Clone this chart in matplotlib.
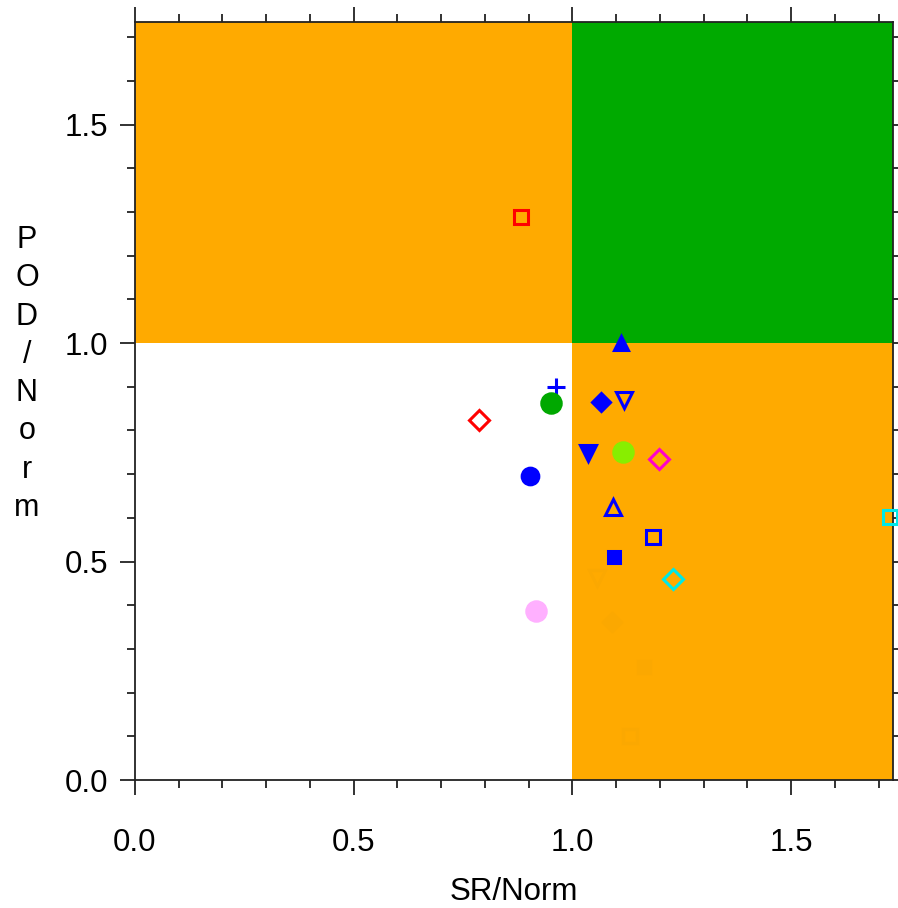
import matplotlib
matplotlib.use("Agg")
import matplotlib.pyplot as plt
from matplotlib.patches import Rectangle
from matplotlib.ticker import MultipleLocator

plt.rcParams['font.family'] = ['Liberation Sans', 'DejaVu Sans']

# Performance-diagram points: normalised success ratio vs. normalised POD
sr_norm = [0.882, 1.111, 0.962, 0.951, 0.786, 1.065, 1.118, 1.035, 1.115,
           1.198, 0.903, 1.093, 1.184, 1.095, 1.230, 0.917, 1.726,
           1.056, 1.090, 1.163, 1.131]
pod_norm = [1.288, 1.000, 0.899, 0.863, 0.824, 0.865, 0.870, 0.748, 0.751,
            0.735, 0.696, 0.625, 0.556, 0.510, 0.460, 0.387, 0.602,
            0.462, 0.362, 0.259, 0.100]
markers = ['s', '^', '+', 'o', 'D', 'D', 'v', 'v', 'o',
           'D', 'o', '^', 's', 's', 'D', 'o', 's',
           'v', 'D', 's', 's']
colors = ['#ff0000', '#0000ff', '#0000ff', '#00a800', '#ff0000', '#0000ff',
          '#0000ff', '#0000ff', '#88ee00', '#ff00cc', '#0000ff', '#0000ff',
          '#0000ff', '#0000ff', '#00e8e8', '#ffb0ff', '#00e8e8',
          '#fba801', '#fba801', '#fba801', '#fba801']
filled = [False, True, True, True, False, True, False, True, True,
          False, True, False, False, True, False, True, False,
          False, True, True, False]
sizes = [10, 10, 13, 14, 10, 9, 11, 11, 14,
         10, 12, 11, 10, 9, 10, 14, 10,
         11, 9, 9, 10]

x_max = 1.733
y_max = 1.735
orange = '#ffaa00'
green = '#00aa00'

fig = plt.figure(figsize=(8.98, 9.08), dpi=100)
ax = fig.add_axes([135 / 898, 1 - 780 / 908, (893 - 135) / 898, (780 - 22) / 908])
ax.set_xlim(0, x_max)
ax.set_ylim(0, y_max)

# Quadrant shading
ax.add_patch(Rectangle((0, 1.0), 1.0, y_max - 1.0, color=orange, lw=0, zorder=0))
ax.add_patch(Rectangle((1.0, 1.0), x_max - 1.0, y_max - 1.0, color=green, lw=0, zorder=0))
ax.add_patch(Rectangle((1.0, 0), x_max - 1.0, 1.0, color=orange, lw=0, zorder=0))

for x, y, m, c, f, s in zip(sr_norm, pod_norm, markers, colors, filled, sizes):
    if m == '+':
        ax.plot(x, y, marker=m, ms=s, mew=2.2, color=c, ls='none', clip_on=False, zorder=3)
    else:
        ax.plot(x, y, marker=m, ms=s, mew=2.2, mec=c, mfc=c if f else 'none',
                ls='none', clip_on=False, zorder=3)

ax.xaxis.set_major_locator(MultipleLocator(0.5))
ax.xaxis.set_minor_locator(MultipleLocator(0.1))
ax.yaxis.set_major_locator(MultipleLocator(0.5))
ax.yaxis.set_minor_locator(MultipleLocator(0.1))
ax.xaxis.set_major_formatter(plt.FormatStrFormatter('%.1f'))
ax.yaxis.set_major_formatter(plt.FormatStrFormatter('%.1f'))

ax.tick_params(which='both', direction='out', top=True, right=True,
               width=1.3, color='#222222', labelsize=22.5)
ax.tick_params(which='major', length=10.5)
ax.tick_params(which='minor', length=5.5)
ax.tick_params(axis='x', pad=24)
ax.tick_params(axis='y', pad=8.5)
for sp in ax.spines.values():
    sp.set_linewidth(1.3)
    sp.set_color('#222222')

ax.set_xlabel('SR/Norm', fontsize=22.5)
ax.xaxis.set_label_coords(0.5, -0.128)

fig.text(27 / 898, 1 - 374 / 908, '\n'.join('POD/Norm'), fontsize=22,
         ha='center', va='center', linespacing=1.36)

fig.savefig('out.png', dpi=100)
